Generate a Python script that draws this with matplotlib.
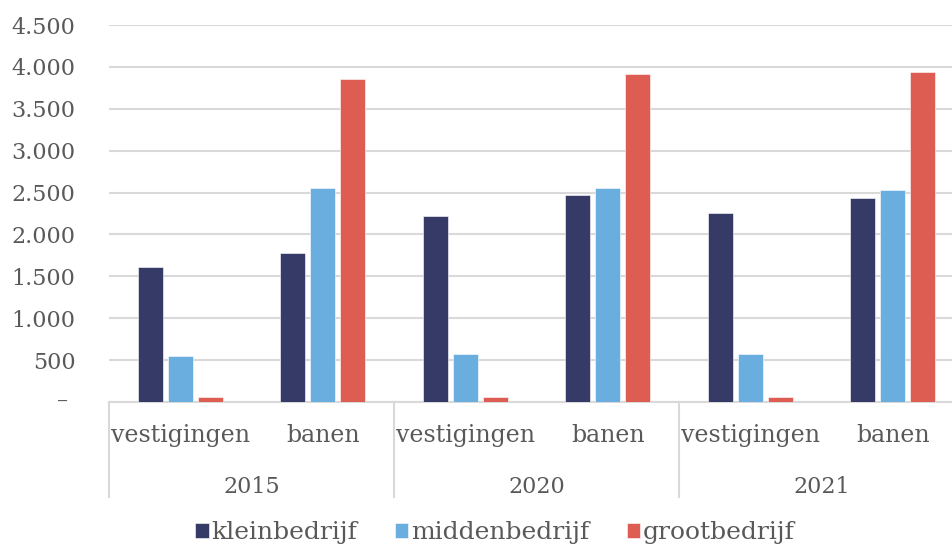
import matplotlib
matplotlib.use('Agg')
import matplotlib.pyplot as plt
import numpy as np
from matplotlib.ticker import FuncFormatter

# data
years = ['2015', '2020', '2021']
kinds = ['vestigingen', 'banen']
series = ['kleinbedrijf', 'middenbedrijf', 'grootbedrijf']
klein = [1610, 1780, 2225, 2470, 2260, 2440]
midden = [545, 2560, 570, 2560, 570, 2530]
groot = [65, 3850, 65, 3910, 65, 3940]
colors = ['#363A66', '#6AADDF', '#DE5D52']

TXT = '#595959'
FONT = 'DejaVu Serif'
plt.rcParams['font.family'] = FONT

W, H = 953, 547
fig = plt.figure(figsize=(W / 100, H / 100), dpi=100)
# plot area in pixels: left 109, right 964 (cropped by figure), top 25, bottom 402
ax = fig.add_axes([109 / W, (H - 402) / H, 855 / W, 377 / H])

n = len(klein)
x = np.arange(n)
bw = 0.175
step = 0.21
for i, (vals, c, lab) in enumerate(zip([klein, midden, groot], colors, series)):
    ax.bar(x + (i - 1) * step, vals, width=bw, color=c, label=lab, zorder=3,
           edgecolor='white', linewidth=0.4)

ax.set_xlim(-0.5, n - 0.5)
ax.set_ylim(0, 4500)
ax.set_yticks(np.arange(0, 4501, 500))
ax.yaxis.set_major_formatter(FuncFormatter(
    lambda v, p: '' if v == 0 else f'{int(v):,}'.replace(',', '.')))
ax.tick_params(axis='y', length=0, pad=24, labelsize=16, labelcolor=TXT)
ax.tick_params(axis='x', length=0, labelbottom=False)
ax.grid(axis='y', color='#D9D9D9', linewidth=1.5, zorder=0)
for s in ['top', 'right', 'left']:
    ax.spines[s].set_visible(False)
ax.spines['bottom'].set_color('#D9D9D9')
ax.spines['bottom'].set_linewidth(1.5)

# zero label drawn as a dash, offset like the original
ax.text(-0.048, 0, '–', transform=ax.get_yaxis_transform(), ha='right',
        va='center', fontsize=16, color=TXT)

# two-level category axis
tr = ax.get_xaxis_transform()
for i in range(n):
    ax.text(x[i], -0.088, kinds[i % 2], transform=tr, ha='center', va='center',
            fontsize=17, color=TXT, clip_on=False)
for g, yr in enumerate(years):
    ax.text(2 * g + 0.5, -0.226, yr, transform=tr, ha='center', va='center',
            fontsize=16, color=TXT, clip_on=False)
for b in [-0.5, 1.5, 3.5, 5.5]:
    ax.plot([b, b], [0, -0.252], transform=tr, color='#D9D9D9', linewidth=1.5,
            clip_on=False)

leg = fig.legend(loc='center', bbox_to_anchor=(495 / W, (H - 533) / H),
                 ncol=3, frameon=False, fontsize=18, handlelength=0.55,
                 handleheight=0.55, handletextpad=0.1, columnspacing=1.5)
for t in leg.get_texts():
    t.set_color(TXT)

fig.savefig('out.png', dpi=100)
